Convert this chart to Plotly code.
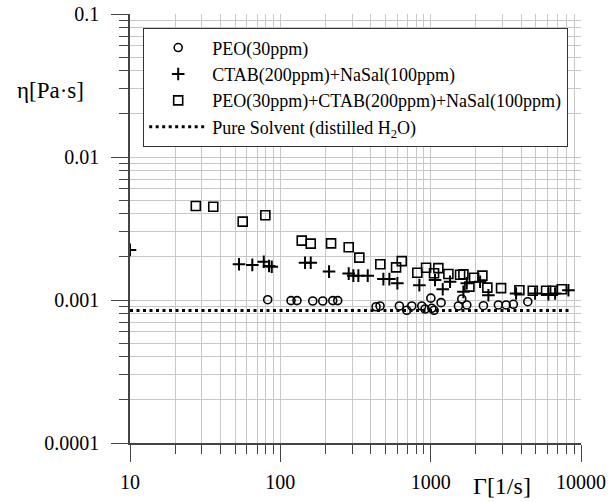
import plotly.graph_objects as go

# PEO(30ppm)
peo_x = [82.4, 117.8, 129.1, 164.3, 191.5, 223.2, 240.9, 433.3, 460.6, 619, 693.4, 748.6,
         872.6, 918, 1003, 1017, 1053, 1173, 1529, 1610, 1739, 2243, 2821, 3175, 3549, 4426]
peo_y = [0.001005, 0.00099, 0.00099, 0.000984, 0.000984, 0.00099, 0.00099, 0.000897, 0.000908,
         0.000908, 0.000847, 0.000908, 0.000908, 0.000865, 0.00103, 0.000875, 0.000847, 0.000958,
         0.000908, 0.001016, 0.000923, 0.000912, 0.000923, 0.000923, 0.000933, 0.000973]

# CTAB(200ppm)+NaSal(100ppm)
ctab_x = [10, 53.1, 65.1, 77.6, 84.1, 87.7, 146, 159.3, 210.9, 285, 306, 330.4, 381.4, 484.6,
          531.2, 600.5, 841, 1069, 1203, 1346, 1651, 1739, 2132, 2421, 3700, 4950, 6069, 6725, 8248]
ctab_y = [0.00224, 0.00178, 0.00176, 0.00185, 0.00173, 0.00171, 0.00182, 0.00182, 0.00158,
          0.00153, 0.00148, 0.00148, 0.00148, 0.00140, 0.00140, 0.00131, 0.00127, 0.00138,
          0.00119, 0.00134, 0.00114, 0.00131, 0.00134, 0.00108, 0.00111, 0.00111, 0.00110,
          0.00111, 0.00117]

# PEO(30ppm)+CTAB(200ppm)+NaSal(100ppm)
mix_x = [27.4, 35.8, 56.2, 79.5, 138.8, 159.3, 217.5, 285, 335.4, 462.7, 588.7, 642.3, 815.5,
         932, 1053, 1125, 1312, 1569, 1651, 1944, 2208, 1810, 2383, 2940, 3892, 4778, 5860,
         6493, 7454]
mix_y = [0.00454, 0.00449, 0.00353, 0.00391, 0.00260, 0.00248, 0.00249, 0.00234, 0.00198,
         0.00178, 0.00169, 0.00187, 0.00155, 0.00168, 0.00154, 0.00167, 0.00152, 0.00150,
         0.00151, 0.00143, 0.00148, 0.00124, 0.00122, 0.00121, 0.00117, 0.00116, 0.00116,
         0.00116, 0.00119]

# Pure solvent
water_x = [10, 8450]
water_y = [0.000845, 0.000845]

x_ticks = [10, 100, 1000, 10000]
x_labels = ["10", "100", "1000", "10000"]
y_ticks = [0.0001, 0.001, 0.01, 0.1]
y_labels = ["0.0001", "0.001", "0.01", "0.1"]

FONT = "Liberation Serif"

fig = go.Figure()
fig.add_trace(go.Scatter(x=peo_x, y=peo_y, mode="markers", name="PEO(30ppm)",
                         legendgroup="a",
                         marker=dict(symbol="circle-open", size=8, color="black",
                                     line=dict(width=1.6, color="black"))))
fig.add_trace(go.Scatter(x=ctab_x, y=ctab_y, mode="markers", name="CTAB(200ppm)+NaSal(100ppm)",
                         legendgroup="b",
                         marker=dict(symbol="cross-thin-open", size=9, color="black",
                                     line=dict(width=2, color="black"))))
fig.add_trace(go.Scatter(x=mix_x, y=mix_y, mode="markers",
                         name="PEO(30ppm)+CTAB(200ppm)+NaSal(100ppm)",
                         legendgroup="c",
                         marker=dict(symbol="square-open", size=9, color="black",
                                     line=dict(width=1.6, color="black"))))
fig.add_trace(go.Scatter(x=water_x, y=water_y, mode="lines",
                         name="Pure Solvent (distilled H<sub>2</sub>O)",
                         legendgroup="d",
                         line=dict(color="black", width=3, dash="3px,3.5px")))

axis_common = dict(
    type="log",
    showgrid=False,
    zeroline=False,
    showline=True,
    linecolor="#444",
    linewidth=1.5,
    ticks="outside",
    ticklen=17,
    tickwidth=1.2,
    tickcolor="#444",
    tickfont=dict(family=FONT, size=20, color="black"),
    mirror=False,
    automargin=False,
    ticklabeloverflow="allow",
)

fig.update_xaxes(
    **axis_common,
    range=[1, 4],
    tickvals=x_ticks,
    ticktext=x_labels,
    ticklabelstandoff=3,
    minor=dict(ticks="outside", ticklen=9, tickwidth=1.2, tickcolor="#444",
               showgrid=True, gridcolor="#c8c8c8", gridwidth=1, dtick="D1"),
)
fig.update_yaxes(
    **axis_common,
    range=[-4, -1],
    tickvals=y_ticks,
    ticktext=y_labels,
    ticklabelstandoff=8,
    minor=dict(ticks="outside", ticklen=9, tickwidth=1.2, tickcolor="#444",
               showgrid=True, gridcolor="#c8c8c8", gridwidth=1, dtick="D1"),
)

fig.update_layout(
    width=608, height=502,
    margin=dict(l=130, r=27, t=14, b=59, autoexpand=False),
    paper_bgcolor="white",
    plot_bgcolor="white",
    font=dict(family=FONT, color="black"),
    showlegend=True,
    legend=dict(
        x=0.0288, y=0.967, xanchor="left", yanchor="top",
        bgcolor="white", bordercolor="#333", borderwidth=1.2,
        font=dict(family=FONT, size=18, color="black"),
        itemwidth=58,
        traceorder="normal",
        tracegroupgap=2,
    ),
    annotations=[
        dict(text="η[Pa·s]", xref="paper", yref="paper", x=-0.177, y=0.822,
             showarrow=False, font=dict(family=FONT, size=23, color="black"),
             xanchor="center", yanchor="middle"),
        dict(text="Γ[1/s]", xref="paper", yref="paper", x=0.825, y=-0.10,
             showarrow=False, font=dict(family=FONT, size=24, color="black"),
             xanchor="center", yanchor="middle"),
    ],
)

# remove the default page margin so the 608x502 figure fills the window exactly
fig.write_html("out.html", config={"displayModeBar": False},
               post_script="document.body.style.margin='0';")
